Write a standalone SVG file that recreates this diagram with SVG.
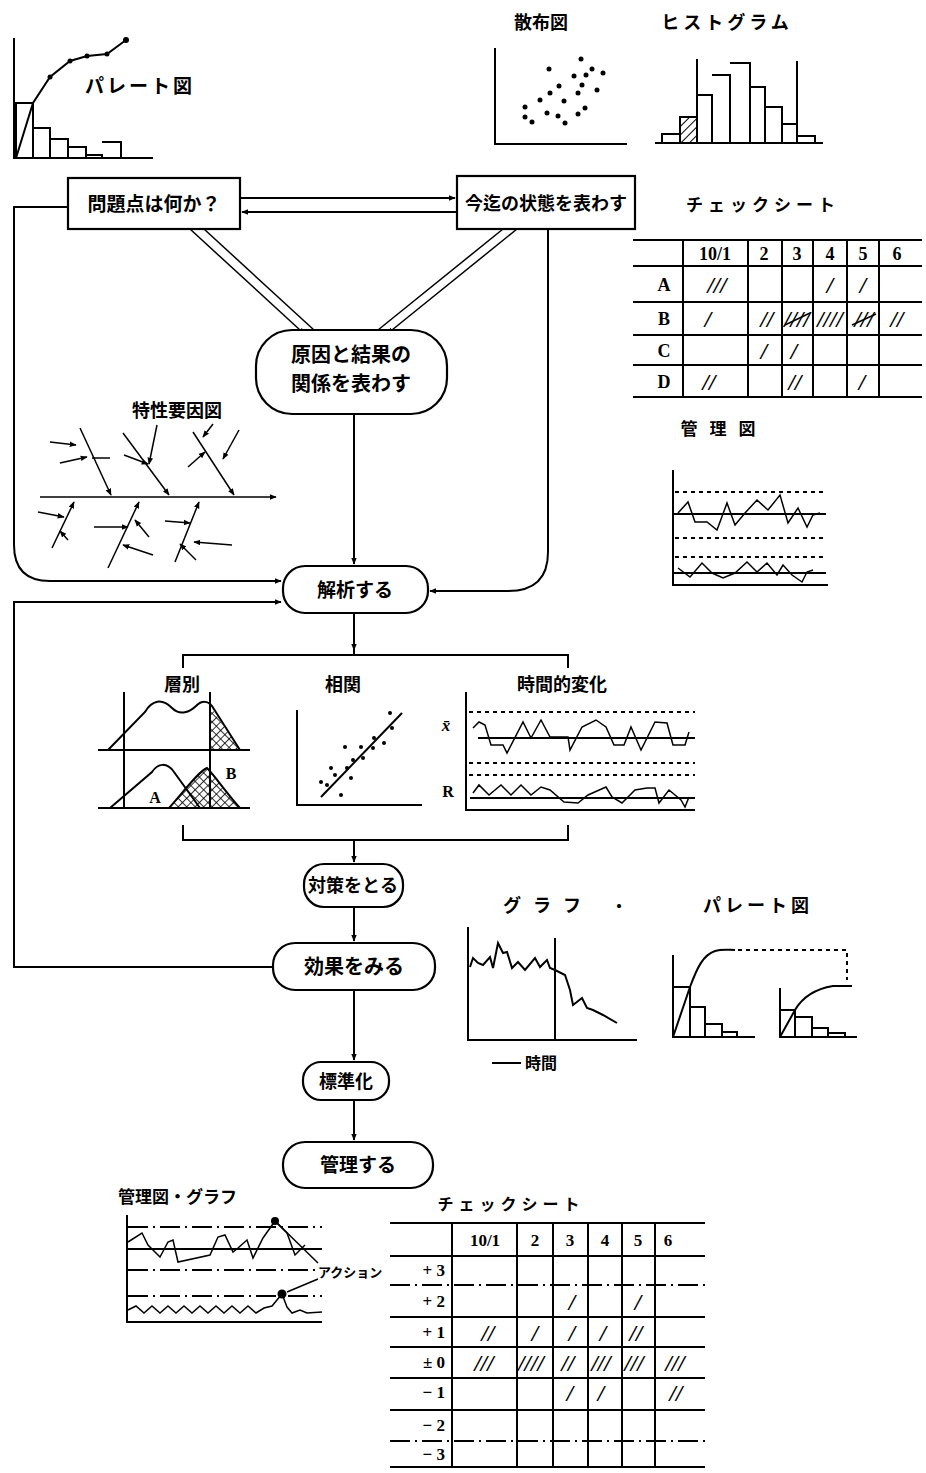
<svg xmlns="http://www.w3.org/2000/svg" width="926" height="1473" viewBox="0 0 926 1473">
<defs>
<style>
.ln{fill:none;stroke:#000;stroke-width:2}
.th{fill:none;stroke:#000;stroke-width:1.5}
.bx{fill:#fff;stroke:#000;stroke-width:2.2}
.dash{fill:none;stroke:#000;stroke-width:2;stroke-dasharray:4 4}
.dd{fill:none;stroke:#000;stroke-width:2;stroke-dasharray:20 5 2 5}
.jp{font-family:"Noto Sans CJK JP","Noto Sans CJK SC",sans-serif;font-weight:bold;fill:#000}
.sf{font-family:"Liberation Serif",serif;font-weight:bold;fill:#000}
.ty{font-family:"Liberation Serif",serif;font-weight:bold;font-style:italic;fill:#000;font-size:23px;text-anchor:middle}
.dot{fill:#000}
</style>
<marker id="ar" viewBox="0 0 10 10" refX="9" refY="5" markerWidth="7" markerHeight="7" orient="auto" markerUnits="userSpaceOnUse">
<path d="M0,1 L10,5 L0,9 Z" fill="#000"/>
</marker>
<pattern id="hatch" width="6" height="6" patternUnits="userSpaceOnUse" patternTransform="rotate(45)">
<line x1="0" y1="0" x2="0" y2="6" stroke="#000" stroke-width="2"/>
</pattern>
<pattern id="cross" width="6" height="6" patternUnits="userSpaceOnUse" patternTransform="rotate(45)">
<rect width="6" height="6" fill="#fff"/>
<line x1="0" y1="0" x2="0" y2="6" stroke="#000" stroke-width="1.6"/>
<line x1="0" y1="0" x2="6" y2="0" stroke="#000" stroke-width="1.6"/>
</pattern>
</defs>
<rect width="926" height="1473" fill="#fff"/>

<!-- connectors -->
<g id="connectors">
<path class="ln" d="M68,207 L14,207 L14,545 Q14,581 50,581 L281,581" marker-end="url(#ar)"/>
<path class="ln" d="M273,967 L14,967 L14,602 L281,602" marker-end="url(#ar)"/>
<path class="ln" d="M548,229 L548,552 Q548,591 508,591 L430,591" marker-end="url(#ar)"/>
<path class="ln" d="M240,198 L455,198" marker-end="url(#ar)"/>
<path class="ln" d="M457,212 L242,212" marker-end="url(#ar)"/>
<path class="th" d="M190,229 L300,330"/>
<path class="th" d="M204,229 L314,330"/>
<path class="th" d="M300,330 L305,334" marker-end="url(#ar)"/>
<path class="th" d="M503,229 L378,330"/>
<path class="th" d="M517,229 L392,330"/>
<path class="th" d="M392,330 L388,334" marker-end="url(#ar)"/>
<path class="ln" d="M354,414 L354,564" marker-end="url(#ar)"/>
<path class="ln" d="M354,613 L354,655"/>
<path class="ln" d="M354,630 L354,650" marker-end="url(#ar)"/>
<path class="ln" d="M183,668 L183,655 L568,655 L568,668"/>
<path class="ln" d="M183,825 L183,840 L568,840 L568,825"/>
<path class="ln" d="M354,840 L354,862" marker-end="url(#ar)"/>
<path class="ln" d="M354,907 L354,941" marker-end="url(#ar)"/>
<path class="ln" d="M354,990 L354,1060" marker-end="url(#ar)"/>
<path class="ln" d="M354,1100 L354,1140" marker-end="url(#ar)"/>
</g>

<!-- nodes -->
<g id="node-problem">
<rect class="bx" x="68" y="178" width="172" height="51"/>
<text class="jp" x="154" y="211" font-size="19" text-anchor="middle">問題点は何か？</text>
</g>
<g id="node-state">
<rect class="bx" x="457" y="176" width="178" height="53"/>
<text class="jp" x="546" y="210" font-size="18" text-anchor="middle">今迄の状態を表わす</text>
</g>
<g id="node-cause">
<rect class="bx" x="256" y="330" width="191" height="84" rx="36"/>
<text class="jp" x="351" y="362" font-size="20" text-anchor="middle">原因と結果の</text>
<text class="jp" x="351" y="391" font-size="20" text-anchor="middle">関係を表わす</text>
</g>
<g id="node-analyze">
<rect class="bx" x="283" y="566" width="145" height="47" rx="22"/>
<text class="jp" x="355" y="597" font-size="19" text-anchor="middle">解析する</text>
</g>
<g id="node-measure">
<rect class="bx" x="304" y="864" width="99" height="43" rx="20"/>
<text class="jp" x="353" y="892" font-size="18" text-anchor="middle">対策をとる</text>
</g>
<g id="node-effect">
<rect class="bx" x="273" y="943" width="162" height="47" rx="22"/>
<text class="jp" x="354" y="974" font-size="20" text-anchor="middle">効果をみる</text>
</g>
<g id="node-standard">
<rect class="bx" x="303" y="1062" width="86" height="38" rx="18"/>
<text class="jp" x="346" y="1088" font-size="18" text-anchor="middle">標準化</text>
</g>
<g id="node-control">
<rect class="bx" x="283" y="1142" width="150" height="46" rx="22"/>
<text class="jp" x="358" y="1172" font-size="19" text-anchor="middle">管理する</text>
</g>

<!-- Pareto top-left -->
<g id="pareto-top">
<path class="ln" d="M14,38 L14,158 L153,158"/>
<path class="ln" d="M16,158 V103 H33 V158 M33,128 H50 V158 M50,139 H68 V158 M68,147 H86 V158 M86,155 H102 V158 M102,142 H121 V158"/>
<path class="ln" d="M16,158 L33,103 L50,77 L70,61 L87,56 L107,54 L126,40"/>
<circle class="dot" cx="50" cy="77" r="2.5"/><circle class="dot" cx="70" cy="61" r="2.5"/><circle class="dot" cx="87" cy="56" r="2.5"/><circle class="dot" cx="107" cy="54" r="2.5"/><circle class="dot" cx="126" cy="40" r="3"/>
<text class="jp" x="85" y="93" font-size="19" letter-spacing="3">パレート図</text>
</g>

<!-- Scatter -->
<g id="scatter">
<text class="jp" x="541" y="29" font-size="18" text-anchor="middle">散布図</text>
<path class="ln" d="M495,48 L495,144 L627,144"/>
<g class="dot">
<circle cx="581" cy="59" r="2.5"/><circle cx="549" cy="69" r="2.5"/><circle cx="592" cy="69" r="2.5"/><circle cx="574" cy="76" r="2.5"/><circle cx="586" cy="75" r="2.5"/><circle cx="603" cy="73" r="2.5"/><circle cx="559" cy="86" r="2.5"/><circle cx="582" cy="85" r="2.5"/><circle cx="550" cy="93" r="2.5"/><circle cx="578" cy="93" r="2.5"/><circle cx="597" cy="90" r="2.5"/><circle cx="540" cy="100" r="2.5"/><circle cx="564" cy="101" r="2.5"/><circle cx="525" cy="107" r="2.5"/><circle cx="585" cy="108" r="2.5"/><circle cx="547" cy="113" r="2.5"/><circle cx="578" cy="114" r="2.5"/><circle cx="525" cy="117" r="2.5"/><circle cx="558" cy="116" r="2.5"/><circle cx="532" cy="122" r="2.5"/><circle cx="565" cy="123" r="2.5"/>
</g>
</g>

<!-- Histogram -->
<g id="histogram">
<text class="jp" x="727" y="29" font-size="18" text-anchor="middle" letter-spacing="4">ヒストグラム</text>
<rect x="680" y="117" width="17" height="26" fill="url(#hatch)" stroke="#000" stroke-width="2"/>
<path class="ln" d="M655,143 L823,143 M662,143 V134 H680 V143 M697,143 V95 H712 V143 M712,75 H730 V143 M730,63 H750 V143 M750,87 H765 V143 M765,107 H782 V143 M782,124 H797 M797,136 H815 V143"/>
<path class="ln" d="M697,59 L697,143 M797,61 L797,143"/>
</g>

<!-- Check sheet top -->
<g id="checksheet-top">
<text class="jp" x="763" y="211" font-size="17" text-anchor="middle" letter-spacing="5">チェックシート</text>
<path class="ln" d="M633,240 L922,240 M633,266 L922,266 M633,302 L922,302 M633,335 L922,335 M633,365 L922,365 M633,397 L922,397"/>
<path class="ln" d="M683,240 V397 M748,240 V397 M782,240 V397 M813,240 V397 M847,240 V397 M879,240 V397"/>
<g class="sf" font-size="18" text-anchor="middle">
<text x="715" y="260">10/1</text><text x="764" y="260">2</text><text x="797" y="260">3</text><text x="830" y="260">4</text><text x="863" y="260">5</text><text x="897" y="260">6</text>
<text x="664" y="291">A</text><text x="664" y="325">B</text><text x="664" y="357">C</text><text x="664" y="388">D</text>
</g>
<text class="ty" x="717" y="293">///</text><text class="ty" x="830" y="293">/</text><text class="ty" x="863" y="293">/</text>
<text class="ty" x="708" y="327">/</text><text class="ty" x="767" y="327">//</text><text class="ty" x="797" y="327" font-size="19">////</text><text class="ty" x="830" y="327" font-size="19">////</text><text class="ty" x="864" y="327" font-size="19">///</text><text class="ty" x="897" y="327">//</text>
<path class="th" d="M785,325 L810,313 M852,325 L876,314"/>
<text class="ty" x="764" y="359">/</text><text class="ty" x="794" y="359">/</text>
<text class="ty" x="709" y="390">//</text><text class="ty" x="795" y="390">//</text><text class="ty" x="862" y="390">/</text>
</g>

<!-- Control chart top -->
<g id="control-top">
<text class="jp" x="724" y="435" font-size="17" text-anchor="middle" letter-spacing="12">管理図</text>
<path class="ln" d="M673,470 L673,585 L828,585"/>
<path class="dash" d="M675,492 H823 M675,538 H823 M675,557 H823"/>
<path class="ln" d="M673,514 H826 M673,573 H826"/>
<polyline class="th" points="678,513 688,502 695,522 707,522 717,530 727,503 735,525 745,513 757,500 768,510 780,495 788,523 798,508 807,527 813,515 820,513"/>
<polyline class="th" points="678,568 690,577 702,563 712,573 723,578 735,573 747,562 757,572 767,563 777,575 783,565 792,575 802,582 807,572 813,570"/>
</g>

<!-- Fishbone -->
<g id="fishbone">
<text class="jp" x="177" y="417" font-size="18" text-anchor="middle">特性要因図</text>
<path class="th" d="M40,497 L276,497" marker-end="url(#ar)"/>
<path class="th" d="M80,428 L111,495" marker-end="url(#ar)"/>
<path class="th" d="M123,433 L169,495" marker-end="url(#ar)"/>
<path class="th" d="M193,432 L234,495" marker-end="url(#ar)"/>
<path class="th" d="M52,548 L74,502" marker-end="url(#ar)"/>
<path class="th" d="M108,568 L139,502" marker-end="url(#ar)"/>
<path class="th" d="M175,562 L199,502" marker-end="url(#ar)"/>
<path class="th" d="M50,442 L76,445" marker-end="url(#ar)"/>
<path class="th" d="M60,463 L87,457" marker-end="url(#ar)"/>
<path class="th" d="M110,458 L92,458"/>
<path class="th" d="M157,425 L149,464" marker-end="url(#ar)"/>
<path class="th" d="M124,455 L148,464" marker-end="url(#ar)"/>
<path class="th" d="M213,424 L203,437" marker-end="url(#ar)"/>
<path class="th" d="M239,430 L223,459" marker-end="url(#ar)"/>
<path class="th" d="M188,467 L205,452" marker-end="url(#ar)"/>
<path class="th" d="M38,512 L64,517" marker-end="url(#ar)"/>
<path class="th" d="M68,540 L60,531" marker-end="url(#ar)"/>
<path class="th" d="M94,527 L128,527" marker-end="url(#ar)"/>
<path class="th" d="M149,537 L135,520" marker-end="url(#ar)"/>
<path class="th" d="M153,555 L123,545" marker-end="url(#ar)"/>
<path class="th" d="M165,521 L190,523" marker-end="url(#ar)"/>
<path class="th" d="M232,545 L194,542" marker-end="url(#ar)"/>
<path class="th" d="M196,560 L180,544" marker-end="url(#ar)"/>
</g>

<!-- Stratification -->
<g id="stratification">
<text class="jp" x="182" y="691" font-size="18" text-anchor="middle">層別</text>
<path d="M210,706 L240,750 L210,750 Z" fill="url(#cross)" stroke="none"/>
<path d="M169,808 C185,790 198,772 207,768 C215,776 228,795 240,808 Z" fill="url(#cross)" stroke="none"/>
<path class="ln" d="M124,692 L124,808 M210,692 L210,808 M98,750 L250,750 M98,808 L250,808"/>
<path class="ln" d="M108,750 L145,712 C152,700 162,698 172,708 C180,716 190,712 196,706 C202,700 208,701 212,706 L240,750"/>
<path class="ln" d="M110,808 L152,772 C158,763 167,762 174,772 L200,808"/>
<path class="ln" d="M169,808 C185,790 198,772 207,768 C215,776 228,795 240,808"/>
<text class="sf" x="155" y="803" font-size="16" font-weight="normal" text-anchor="middle">A</text>
<text class="sf" x="231" y="779" font-size="16" font-weight="normal" text-anchor="middle">B</text>
</g>

<!-- Correlation -->
<g id="correlation">
<text class="jp" x="343" y="691" font-size="18" text-anchor="middle">相関</text>
<path class="ln" d="M297,710 L297,805 L422,805"/>
<path class="ln" d="M321,797 L402,713"/>
<g class="dot">
<circle cx="390" cy="713" r="2"/><circle cx="392" cy="728" r="2"/><circle cx="374" cy="738" r="2"/><circle cx="384" cy="743" r="2"/><circle cx="361" cy="747" r="2"/><circle cx="345" cy="747" r="2"/><circle cx="373" cy="748" r="2"/><circle cx="353" cy="760" r="2"/><circle cx="363" cy="758" r="2"/><circle cx="331" cy="768" r="2"/><circle cx="347" cy="768" r="2"/><circle cx="335" cy="775" r="2"/><circle cx="351" cy="778" r="2"/><circle cx="321" cy="782" r="2"/><circle cx="327" cy="785" r="2"/><circle cx="341" cy="795" r="2"/>
</g>
</g>

<!-- Time change -->
<g id="time-change">
<text class="jp" x="562" y="691" font-size="18" text-anchor="middle">時間的変化</text>
<text class="sf" x="446" y="731" font-size="17" font-style="italic" text-anchor="middle">x̄</text>
<text class="sf" x="448" y="797" font-size="16" font-weight="normal" text-anchor="middle">R</text>
<path class="ln" d="M466,692 L466,810 L695,810"/>
<path class="dash" d="M469,712 H695 M469,763 H695 M469,775 H695"/>
<path class="ln" d="M478,738 H695 M470,798 H695"/>
<polyline class="th" points="473,728 479,722 485,725 491,745 503,745 507,753 523,722 531,738 541,720 550,737 568,737 570,750 582,727 596,720 606,727 614,745 624,745 631,727 641,750 655,722 667,723 673,745 685,745 689,732"/>
<polyline class="th" points="473,793 479,785 489,795 501,785 511,795 521,785 531,795 541,787 550,790 564,802 578,803 588,795 606,787 612,797 622,803 635,790 647,788 655,788 659,803 669,790 681,800 685,807 689,797"/>
</g>

<!-- Graph -->
<g id="graph">
<text class="jp" x="548" y="912" font-size="18" text-anchor="middle" letter-spacing="12">グラフ</text>
<text class="jp" x="619" y="912" font-size="16" text-anchor="middle">・</text>
<path class="ln" d="M468,927 L468,1040 L637,1040 M555,938 L555,1040"/>
<polyline class="ln" points="470,967 473,958 478,963 483,965 490,957 493,968 498,943 503,953 507,952 512,968 518,962 525,970 535,958 540,967 547,960 550,968 555,970 565,975 570,990 573,1005 582,998 587,1008 593,1010 603,1015 617,1023"/>
<path class="ln" d="M492,1063 L521,1063"/>
<text class="jp" x="525" y="1069" font-size="16">時間</text>
</g>

<!-- Pareto pair -->
<g id="pareto-pair">
<text class="jp" x="703" y="912" font-size="18" letter-spacing="4">パレート図</text>
<path class="ln" d="M673,955 L673,1037 L755,1037"/>
<path class="ln" d="M673,987 H690 V1037 M690,1007 H705 V1037 M705,1024 H722 V1037 M722,1032 H737 V1037"/>
<path class="ln" d="M673,1037 L690,987 C697,968 703,955 715,951 C722,949 728,950 735,950"/>
<path class="dash" d="M738,950 H847 V980"/>
<path class="ln" d="M780,988 L780,1037 L857,1037"/>
<path class="ln" d="M780,1010 H795 V1037 M795,1017 H812 V1037 M812,1028 H828 V1037 M828,1033 H845 V1037"/>
<path class="ln" d="M780,1037 L795,1010 C802,998 815,989 833,986 L852,986"/>
</g>

<!-- Control chart bottom -->
<g id="control-bottom">
<text class="jp" x="118" y="1203" font-size="17">管理図・グラフ</text>
<path class="ln" d="M127,1215 L127,1322 L322,1322"/>
<path class="dd" d="M128,1227 H322 M128,1270 H316 M128,1296 H322"/>
<path class="ln" d="M127,1249 H322"/>
<polyline class="th" points="128,1242 142,1233 148,1245 160,1257 168,1242 173,1240 178,1262 210,1255 218,1237 225,1235 233,1252 238,1248 247,1240 253,1258 263,1238 275,1221 287,1233 295,1255 305,1245"/>
<path class="th" d="M275,1221 L318,1263"/>
<polyline class="th" points="128,1310 136,1306 144,1313 152,1306 160,1313 168,1306 176,1313 184,1306 192,1313 200,1306 208,1313 216,1306 224,1313 232,1306 240,1313 248,1306 256,1313 264,1308 272,1306 282,1294 287,1307 292,1313 300,1310 307,1313 322,1312"/>
<circle class="dot" cx="275" cy="1221" r="4"/>
<circle class="dot" cx="282" cy="1294" r="4.5"/>
<path class="th" d="M318,1279 L287,1292"/>
<text class="jp" x="318" y="1277" font-size="13" font-weight="normal">アクション</text>
</g>

<!-- Check sheet bottom -->
<g id="checksheet-bottom">
<text class="jp" x="511" y="1210" font-size="16" text-anchor="middle" letter-spacing="5">チェックシート</text>
<path class="ln" d="M390,1223 H705 M390,1256 H705 M390,1317 H705 M390,1347 H705 M390,1378 H705 M390,1410 H705 M390,1467 H705"/>
<path class="dd" d="M390,1285 H705 M390,1441 H705"/>
<path class="ln" d="M452,1223 V1467 M517,1223 V1467 M553,1223 V1467 M588,1223 V1467 M622,1223 V1467 M655,1223 V1467"/>
<g class="sf" font-size="17" text-anchor="middle">
<text x="485" y="1246">10/1</text><text x="535" y="1246">2</text><text x="570" y="1246">3</text><text x="605" y="1246">4</text><text x="638" y="1246">5</text><text x="668" y="1246">6</text>
</g>
<g class="sf" font-size="17" text-anchor="end">
<text x="445" y="1276">+ 3</text><text x="445" y="1307">+ 2</text><text x="445" y="1338">+ 1</text><text x="445" y="1368">± 0</text><text x="445" y="1398">− 1</text><text x="445" y="1431">− 2</text><text x="445" y="1460">− 3</text>
</g>
<text class="ty" x="572" y="1310">/</text><text class="ty" x="638" y="1310">/</text>
<text class="ty" x="488" y="1341">//</text><text class="ty" x="535" y="1341">/</text><text class="ty" x="572" y="1341">/</text><text class="ty" x="603" y="1341">/</text><text class="ty" x="636" y="1341">//</text>
<text class="ty" x="484" y="1371">///</text><text class="ty" x="531" y="1371" font-size="20">////</text><text class="ty" x="568" y="1371">//</text><text class="ty" x="601" y="1371">///</text><text class="ty" x="634" y="1371">///</text><text class="ty" x="675" y="1371">///</text>
<text class="ty" x="570" y="1401">/</text><text class="ty" x="601" y="1401">/</text><text class="ty" x="676" y="1401">//</text>
</g>
</svg>
